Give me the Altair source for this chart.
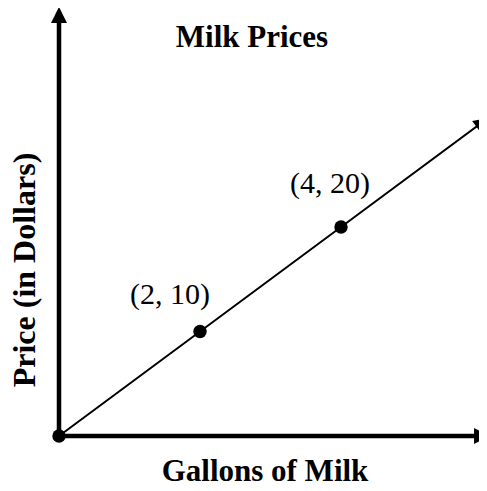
import altair as alt
import pandas as pd

# data
gallons = [0, 2, 4]
prices = [0, 10, 20]
labels = ["", "(2, 10)", "(4, 20)"]
line_gallons = [0, 2, 4, 6.2]
line_prices = [0, 10, 20, 31]
chart_title = ["Milk Prices"]
x_title = ["Gallons of Milk"]
y_title = ["Price (in Dollars)"]

X_DOMAIN = [0, 5.957]
Y_DOMAIN = [0, 40.96]
FONT = "Liberation Serif"

pts = pd.DataFrame({"g": gallons, "p": prices, "label": labels})
line_df = pd.DataFrame({"g": line_gallons, "p": line_prices})

xs = alt.Scale(domain=X_DOMAIN, nice=False, zero=False)
ys = alt.Scale(domain=Y_DOMAIN, nice=False, zero=False)


def X(f="g:Q"):
    return alt.X(f, scale=xs, axis=None)


def Y(f="p:Q"):
    return alt.Y(f, scale=ys, axis=None)


arrow = "M0,-1L1,1L-1,1Z"

xaxis_df = pd.DataFrame({"g": [0], "g2": [6.2], "p": [0]})
yaxis_df = pd.DataFrame({"g": [0], "p": [0], "p2": [39.6]})

x_axis_line = alt.Chart(xaxis_df).mark_rule(color="black", strokeWidth=4.5).encode(
    x=X(), x2="g2:Q", y=Y()
)
y_axis_line = alt.Chart(yaxis_df).mark_rule(color="black", strokeWidth=4.5).encode(
    x=X(), y=Y(), y2="p2:Q"
)

x_arrow = alt.Chart(pd.DataFrame({"g": [6.0], "p": [0]})).mark_point(
    shape=arrow, filled=True, color="black", opacity=1, size=256, angle=90
).encode(x=X(), y=Y())

y_arrow = alt.Chart(pd.DataFrame({"g": [0], "p": [40.3]})).mark_point(
    shape=arrow, filled=True, color="black", opacity=1, size=256, angle=0
).encode(x=X(), y=Y())

price_line = alt.Chart(line_df).mark_line(color="black", strokeWidth=2).encode(x=X(), y=Y())

line_arrow = alt.Chart(pd.DataFrame({"g": [6.0], "p": [30.0]})).mark_point(
    shape=arrow, filled=True, color="black", opacity=1, size=200, angle=53.5
).encode(x=X(), y=Y())

points = alt.Chart(pts).mark_circle(color="black", opacity=1, size=180).encode(x=X(), y=Y())

lab1 = alt.Chart(pts.iloc[[1]]).mark_text(
    font=FONT, fontSize=30, color="black", align="center", baseline="alphabetic", dx=-30, dy=-28
).encode(x=X(), y=Y(), text="label:N")

lab2 = alt.Chart(pts.iloc[[2]]).mark_text(
    font=FONT, fontSize=30, color="black", align="center", baseline="alphabetic", dx=-11, dy=-34
).encode(x=X(), y=Y(), text="label:N")

title_txt = alt.Chart(pd.DataFrame({"t": chart_title})).mark_text(
    font=FONT, fontSize=31, fontWeight="bold", color="black", align="center", baseline="alphabetic"
).encode(x=alt.value(193), y=alt.value(39), text="t:N")

xtitle_txt = alt.Chart(pd.DataFrame({"t": x_title})).mark_text(
    font=FONT, fontSize=31, fontWeight="bold", color="black", align="center", baseline="alphabetic"
).encode(x=alt.value(206), y=alt.value(473), text="t:N")

ytitle_txt = alt.Chart(pd.DataFrame({"t": y_title})).mark_text(
    font=FONT, fontSize=32, fontWeight="bold", color="black", align="center", baseline="alphabetic",
    angle=270
).encode(x=alt.value(-24), y=alt.value(262), text="t:N")

chart = alt.layer(
    x_axis_line, y_axis_line, x_arrow, y_arrow, price_line, line_arrow, points, lab1, lab2,
    title_txt, xtitle_txt, ytitle_txt
).properties(
    width=420,
    height=428,
    autosize=alt.AutoSizeParams(type="none"),
    padding={"left": 51, "top": 0, "right": 0, "bottom": 47},
    background="white",
).configure_view(stroke=None)

chart.save("out.html", embed_options={"renderer": "svg", "actions": False})
